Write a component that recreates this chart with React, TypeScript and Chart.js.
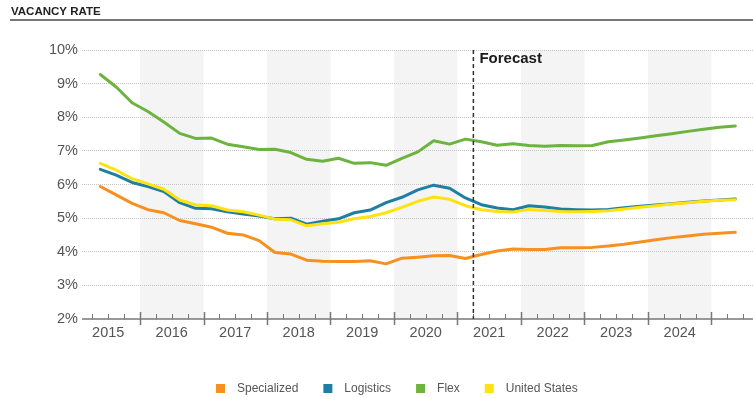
import { useEffect, useRef } from 'react';
import { Chart, registerables } from 'chart.js';

Chart.register(...registerables);

const FONT = '"Liberation Sans", Arial, Helvetica, sans-serif';

const chartTitle = 'VACANCY RATE';
const forecastLabel = 'Forecast';

// Quarterly observations and forecast (plotted at the middle of each quarter)
const quarters = [
  '2015 Q2', '2015 Q3', '2015 Q4',
  '2016 Q1', '2016 Q2', '2016 Q3', '2016 Q4',
  '2017 Q1', '2017 Q2', '2017 Q3', '2017 Q4',
  '2018 Q1', '2018 Q2', '2018 Q3', '2018 Q4',
  '2019 Q1', '2019 Q2', '2019 Q3', '2019 Q4',
  '2020 Q1', '2020 Q2', '2020 Q3', '2020 Q4',
  '2021 Q1', '2021 Q2', '2021 Q3', '2021 Q4',
  '2022 Q1', '2022 Q2', '2022 Q3', '2022 Q4',
  '2023 Q1', '2023 Q2', '2023 Q3', '2023 Q4',
  '2024 Q1', '2024 Q2', '2024 Q3', '2024 Q4',
  '2025 Q1', '2025 Q2',
];

const yearLabels = ['2015', '2016', '2017', '2018', '2019', '2020', '2021', '2022', '2023', '2024'];
const shadedYears = [2016, 2018, 2020, 2022, 2024];

// Forecast begins after the first quarter of 2021
const forecastStart = 2021.25;

const specialized = [
  5.94, 5.69, 5.44, 5.25, 5.16, 4.93, 4.83, 4.73, 4.55, 4.50,
  4.33, 3.98, 3.93, 3.75, 3.72, 3.71, 3.71, 3.73, 3.64, 3.81,
  3.84, 3.88, 3.89, 3.80, 3.92, 4.02, 4.08, 4.07, 4.07, 4.12,
  4.12, 4.13, 4.17, 4.22, 4.29, 4.36, 4.42, 4.47, 4.52, 4.55,
  4.58,
];

const logistics = [
  6.45, 6.28, 6.06, 5.94, 5.79, 5.46, 5.29, 5.28, 5.19, 5.12,
  5.06, 4.98, 5.00, 4.82, 4.91, 4.98, 5.16, 5.24, 5.46, 5.62,
  5.84, 5.98, 5.89, 5.60, 5.40, 5.30, 5.25, 5.37, 5.33, 5.27,
  5.25, 5.24, 5.26, 5.31, 5.35, 5.39, 5.43, 5.47, 5.51, 5.54,
  5.57,
];

const flex = [
  9.27, 8.90, 8.43, 8.17, 7.86, 7.52, 7.37, 7.38, 7.20, 7.12,
  7.04, 7.05, 6.95, 6.75, 6.69, 6.78, 6.63, 6.65, 6.57, 6.78,
  6.97, 7.30, 7.20, 7.35, 7.27, 7.17, 7.21, 7.16, 7.14, 7.16,
  7.15, 7.16, 7.27, 7.32, 7.38, 7.45, 7.51, 7.58, 7.64, 7.70,
  7.74,
];

const unitedStates = [
  6.63, 6.43, 6.17, 6.02, 5.86, 5.54, 5.39, 5.37, 5.24, 5.19,
  5.09, 4.97, 4.95, 4.77, 4.83, 4.88, 4.98, 5.05, 5.16, 5.32,
  5.50, 5.63, 5.56, 5.37, 5.25, 5.20, 5.18, 5.26, 5.23, 5.20,
  5.19, 5.20, 5.22, 5.27, 5.32, 5.37, 5.42, 5.46, 5.50, 5.53,
  5.55,
];

const seriesNames = ['Specialized', 'Logistics', 'Flex', 'United States'];
const seriesColors = ['#F7901E', '#1F7EA3', '#6DB33F', '#FFE20F'];
const seriesValues = [specialized, logistics, flex, unitedStates];
// drawing order: lower numbers end up on top
const seriesOrder = [3, 2, 1, 0];

function quarterMid(label: string): number {
  const [year, q] = label.split(' Q');
  return Number(year) + (Number(q) - 0.5) / 4;
}

const decorations = {
  id: 'decorations',
  beforeDraw(chart: any) {
    const { ctx, chartArea, scales } = chart;
    const xs = scales.x;
    ctx.save();
    // title and rule
    ctx.fillStyle = '#222';
    ctx.font = `bold 11.5px ${FONT}`;
    ctx.textBaseline = 'alphabetic';
    ctx.textAlign = 'left';
    ctx.fillText(chartTitle, 11, 15);
    ctx.strokeStyle = '#4a4a4a';
    ctx.lineWidth = 1.5;
    ctx.beginPath();
    ctx.moveTo(10, 20);
    ctx.lineTo(chart.width, 20);
    ctx.stroke();
    // alternating year bands
    ctx.fillStyle = '#f4f4f4';
    for (const y of shadedYears) {
      const x0 = Math.max(xs.getPixelForValue(y), chartArea.left);
      const x1 = Math.min(xs.getPixelForValue(y + 1), chartArea.right);
      ctx.fillRect(x0, chartArea.top, x1 - x0, chartArea.bottom - chartArea.top);
    }
    ctx.restore();
  },
  afterDatasetsDraw(chart: any) {
    const { ctx, chartArea, scales } = chart;
    const xs = scales.x;
    const base = chartArea.bottom;
    ctx.save();
    // x axis line with year and quarter ticks
    ctx.strokeStyle = '#777';
    ctx.lineWidth = 1.5;
    ctx.beginPath();
    ctx.moveTo(chartArea.left, base);
    ctx.lineTo(chartArea.right, base);
    ctx.stroke();
    const k0 = Math.ceil(xs.min * 4);
    const k1 = Math.floor(xs.max * 4);
    for (let k = k0; k <= k1; k++) {
      const px = Math.round(xs.getPixelForValue(k / 4)) + 0.5;
      ctx.beginPath();
      if (k % 4 === 0) {
        ctx.lineWidth = 1.5;
        ctx.moveTo(px, base - 7);
        ctx.lineTo(px, base + 6);
      } else {
        ctx.lineWidth = 1;
        ctx.moveTo(px, base - 5);
        ctx.lineTo(px, base);
      }
      ctx.stroke();
    }
    // forecast divider
    const fx = xs.getPixelForValue(forecastStart);
    ctx.strokeStyle = '#333';
    ctx.lineWidth = 1.5;
    ctx.setLineDash([4, 3]);
    ctx.beginPath();
    ctx.moveTo(fx, chartArea.top);
    ctx.lineTo(fx, base);
    ctx.stroke();
    ctx.setLineDash([]);
    ctx.fillStyle = '#1a1a1a';
    ctx.font = `bold 15px ${FONT}`;
    ctx.textAlign = 'left';
    ctx.textBaseline = 'alphabetic';
    ctx.fillText(forecastLabel, fx + 6, 63);
    ctx.restore();
  },
  afterDraw(chart: any) {
    const { ctx } = chart;
    ctx.save();
    ctx.font = `12px ${FONT}`;
    ctx.textBaseline = 'middle';
    ctx.textAlign = 'left';
    const cy = 388.5;
    let x = 216;
    chart.data.datasets.forEach((ds: any) => {
      ctx.fillStyle = ds.borderColor;
      ctx.fillRect(x, cy - 4.5, 9, 9);
      ctx.fillStyle = '#555';
      ctx.fillText(ds.label, x + 21, cy);
      x += 21 + ctx.measureText(ds.label).width + 25;
    });
    ctx.restore();
  },
};

export default function App() {
  const canvasRef = useRef<HTMLCanvasElement>(null);

  useEffect(() => {
    const canvas = canvasRef.current;
    if (!canvas) return;

    const datasets = seriesNames.map((name, s) => ({
      label: name,
      data: quarters.map((q, i) => ({ x: quarterMid(q), y: seriesValues[s][i] })),
      borderColor: seriesColors[s],
      backgroundColor: seriesColors[s],
      borderWidth: 3,
      tension: 0,
      pointRadius: 0,
      borderJoinStyle: 'round' as const,
      borderCapStyle: 'round' as const,
      order: seriesOrder[s],
    }));

    const chart = new Chart(canvas, {
      type: 'line',
      data: { datasets },
      options: {
        responsive: false,
        animation: false,
        events: [],
        layout: { padding: { top: 50, left: 0, right: 0, bottom: 0 } },
        plugins: {
          legend: { display: false },
          tooltip: { enabled: false },
        },
        scales: {
          x: {
            type: 'linear',
            min: 2016 - 58 / 63.5,
            max: 2016 + 613 / 63.5,
            grid: { display: false, drawTicks: false },
            border: { display: false },
            afterBuildTicks: (scale: any) => {
              scale.ticks = yearLabels.map((y) => ({ value: Number(y) + 0.5 }));
            },
            afterFit: (scale: any) => {
              scale.height = 79;
            },
            ticks: {
              autoSkip: false,
              maxRotation: 0,
              padding: 5,
              color: '#555',
              font: { family: FONT, size: 14.5 },
              callback: (_v: any, i: number) => yearLabels[i],
            },
          },
          y: {
            min: 2,
            max: 10,
            grid: {
              drawTicks: false,
              color: (c: any) => (c.tick && c.tick.value === 2 ? 'rgba(0,0,0,0)' : '#c4c4c4'),
              lineWidth: 1,
            },
            border: { display: false, dash: [1, 1] },
            afterFit: (scale: any) => {
              scale.width = 82;
            },
            ticks: {
              stepSize: 1,
              padding: 4,
              color: '#555',
              font: { family: FONT, size: 14.5 },
              callback: (v: any) => `${v}%`,
            },
          },
        },
      },
      plugins: [decorations],
    });

    return () => chart.destroy();
  }, []);

  return (
    <div style={{ position: 'absolute', left: 0, top: 0, width: 753, height: 398, background: '#fff' }}>
      <canvas ref={canvasRef} width={753} height={398} style={{ display: 'block', width: 753, height: 398 }} />
    </div>
  );
}
